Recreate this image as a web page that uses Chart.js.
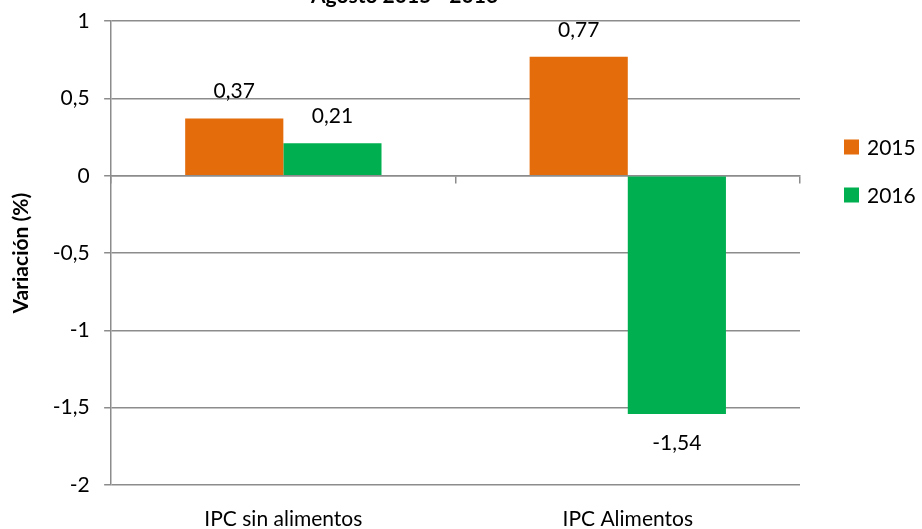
<!DOCTYPE html>
<html>
<head>
<meta charset="utf-8">
<script src="https://cdn.jsdelivr.net/npm/chart.js@4"></script>
<style>
  html, body { margin: 0; padding: 0; background: #fff; overflow: hidden; }
  #wrap { position: relative; width: 922px; height: 549px; margin-top: -20px; }
</style>
</head>
<body>
<div id="wrap"><canvas id="c" width="922" height="549"></canvas></div>
<script>
const categories = ['IPC sin alimentos', 'IPC Alimentos'];
const seriesNames = ['2015', '2016'];
const values2015 = [0.37, 0.77];
const values2016 = [0.21, -1.54];
const seriesColors = ['#E46C0A', '#00B050'];
const titleText = 'Agosto 2015 - 2016';
const yTitle = 'Variación (%)';

const FONT = 'Lato, "Open Sans", sans-serif';
const FS = 21;
const GRID = '#8c8c8c';
const fmt = v => String(v).replace('.', ',');

const dataLabels = {
  id: 'dataLabels',
  afterDatasetsDraw(chart) {
    const ctx = chart.ctx;
    ctx.save();
    ctx.font = FS + 'px ' + FONT;
    ctx.fillStyle = '#000';
    ctx.textAlign = 'center';
    ctx.textBaseline = 'middle';
    chart.data.datasets.forEach((ds, i) => {
      chart.getDatasetMeta(i).data.forEach((bar, j) => {
        const v = ds.data[j];
        const y = v >= 0 ? bar.y - 27 : bar.y + 29;
        ctx.fillText(fmt(v), bar.x, y);
      });
    });
    ctx.restore();
  }
};

const sideLegend = {
  id: 'sideLegend',
  afterDraw(chart) {
    const ctx = chart.ctx;
    ctx.save();
    ctx.font = FS + 'px ' + FONT;
    ctx.textBaseline = 'middle';
    ctx.textAlign = 'left';
    const x = 844, y0 = 167, gap = 48;
    chart.data.datasets.forEach((ds, i) => {
      const y = y0 + i * gap;
      ctx.fillStyle = ds.backgroundColor;
      ctx.fillRect(x, y - 7.5, 15, 15);
      ctx.fillStyle = '#000';
      ctx.fillText(ds.label, x + 23, y + 1);
    });
    ctx.restore();
  }
};

new Chart(document.getElementById('c'), {
  type: 'bar',
  data: {
    labels: categories,
    datasets: [
      { label: seriesNames[0], data: values2015, backgroundColor: seriesColors[0] },
      { label: seriesNames[1], data: values2016, backgroundColor: seriesColors[1] }
    ]
  },
  options: {
    responsive: false,
    animation: false,
    devicePixelRatio: 1,
    categoryPercentage: 0.57,
    barPercentage: 1.0,
    layout: { padding: { left: 9, right: 122, top: 0, bottom: 0 } },
    plugins: {
      legend: { display: false },
      tooltip: { enabled: false },
      title: {
        display: true,
        text: titleText,
        color: '#000',
        font: { family: FONT, size: FS, weight: 'bold' },
        padding: { top: 4, bottom: 12 }
      }
    },
    scales: {
      x: {
        type: 'category',
        position: 'bottom',
        afterFit(scale) { scale.height = 44; },
        grid: { display: false, drawTicks: false },
        border: { display: false },
        ticks: { color: '#000', font: { family: FONT, size: FS }, padding: 22, maxRotation: 0 }
      },
      x2: {
        type: 'category',
        labels: categories,
        position: { y: 0 },
        offset: true,
        afterFit(scale) { scale.height = 0; },
        grid: { offset: true, drawOnChartArea: false, drawTicks: true, tickLength: 7, color: GRID, lineWidth: 1.5 },
        border: { display: true, color: GRID, width: 1.5 },
        ticks: { display: false }
      },
      y: {
        min: -2,
        max: 1,
        ticks: {
          stepSize: 0.5,
          color: '#000',
          font: { family: FONT, size: FS },
          padding: 14.5,
          callback: v => fmt(v)
        },
        grid: { color: GRID, lineWidth: 1.5, tickLength: 7 },
        border: { display: true, color: GRID, width: 1.5 },
        title: {
          display: true,
          text: yTitle,
          color: '#000',
          font: { family: FONT, size: FS, weight: 'bold' },
          padding: { top: 0, bottom: 4 }
        }
      }
    }
  },
  plugins: [dataLabels, sideLegend]
});
</script>
</body>
</html>
